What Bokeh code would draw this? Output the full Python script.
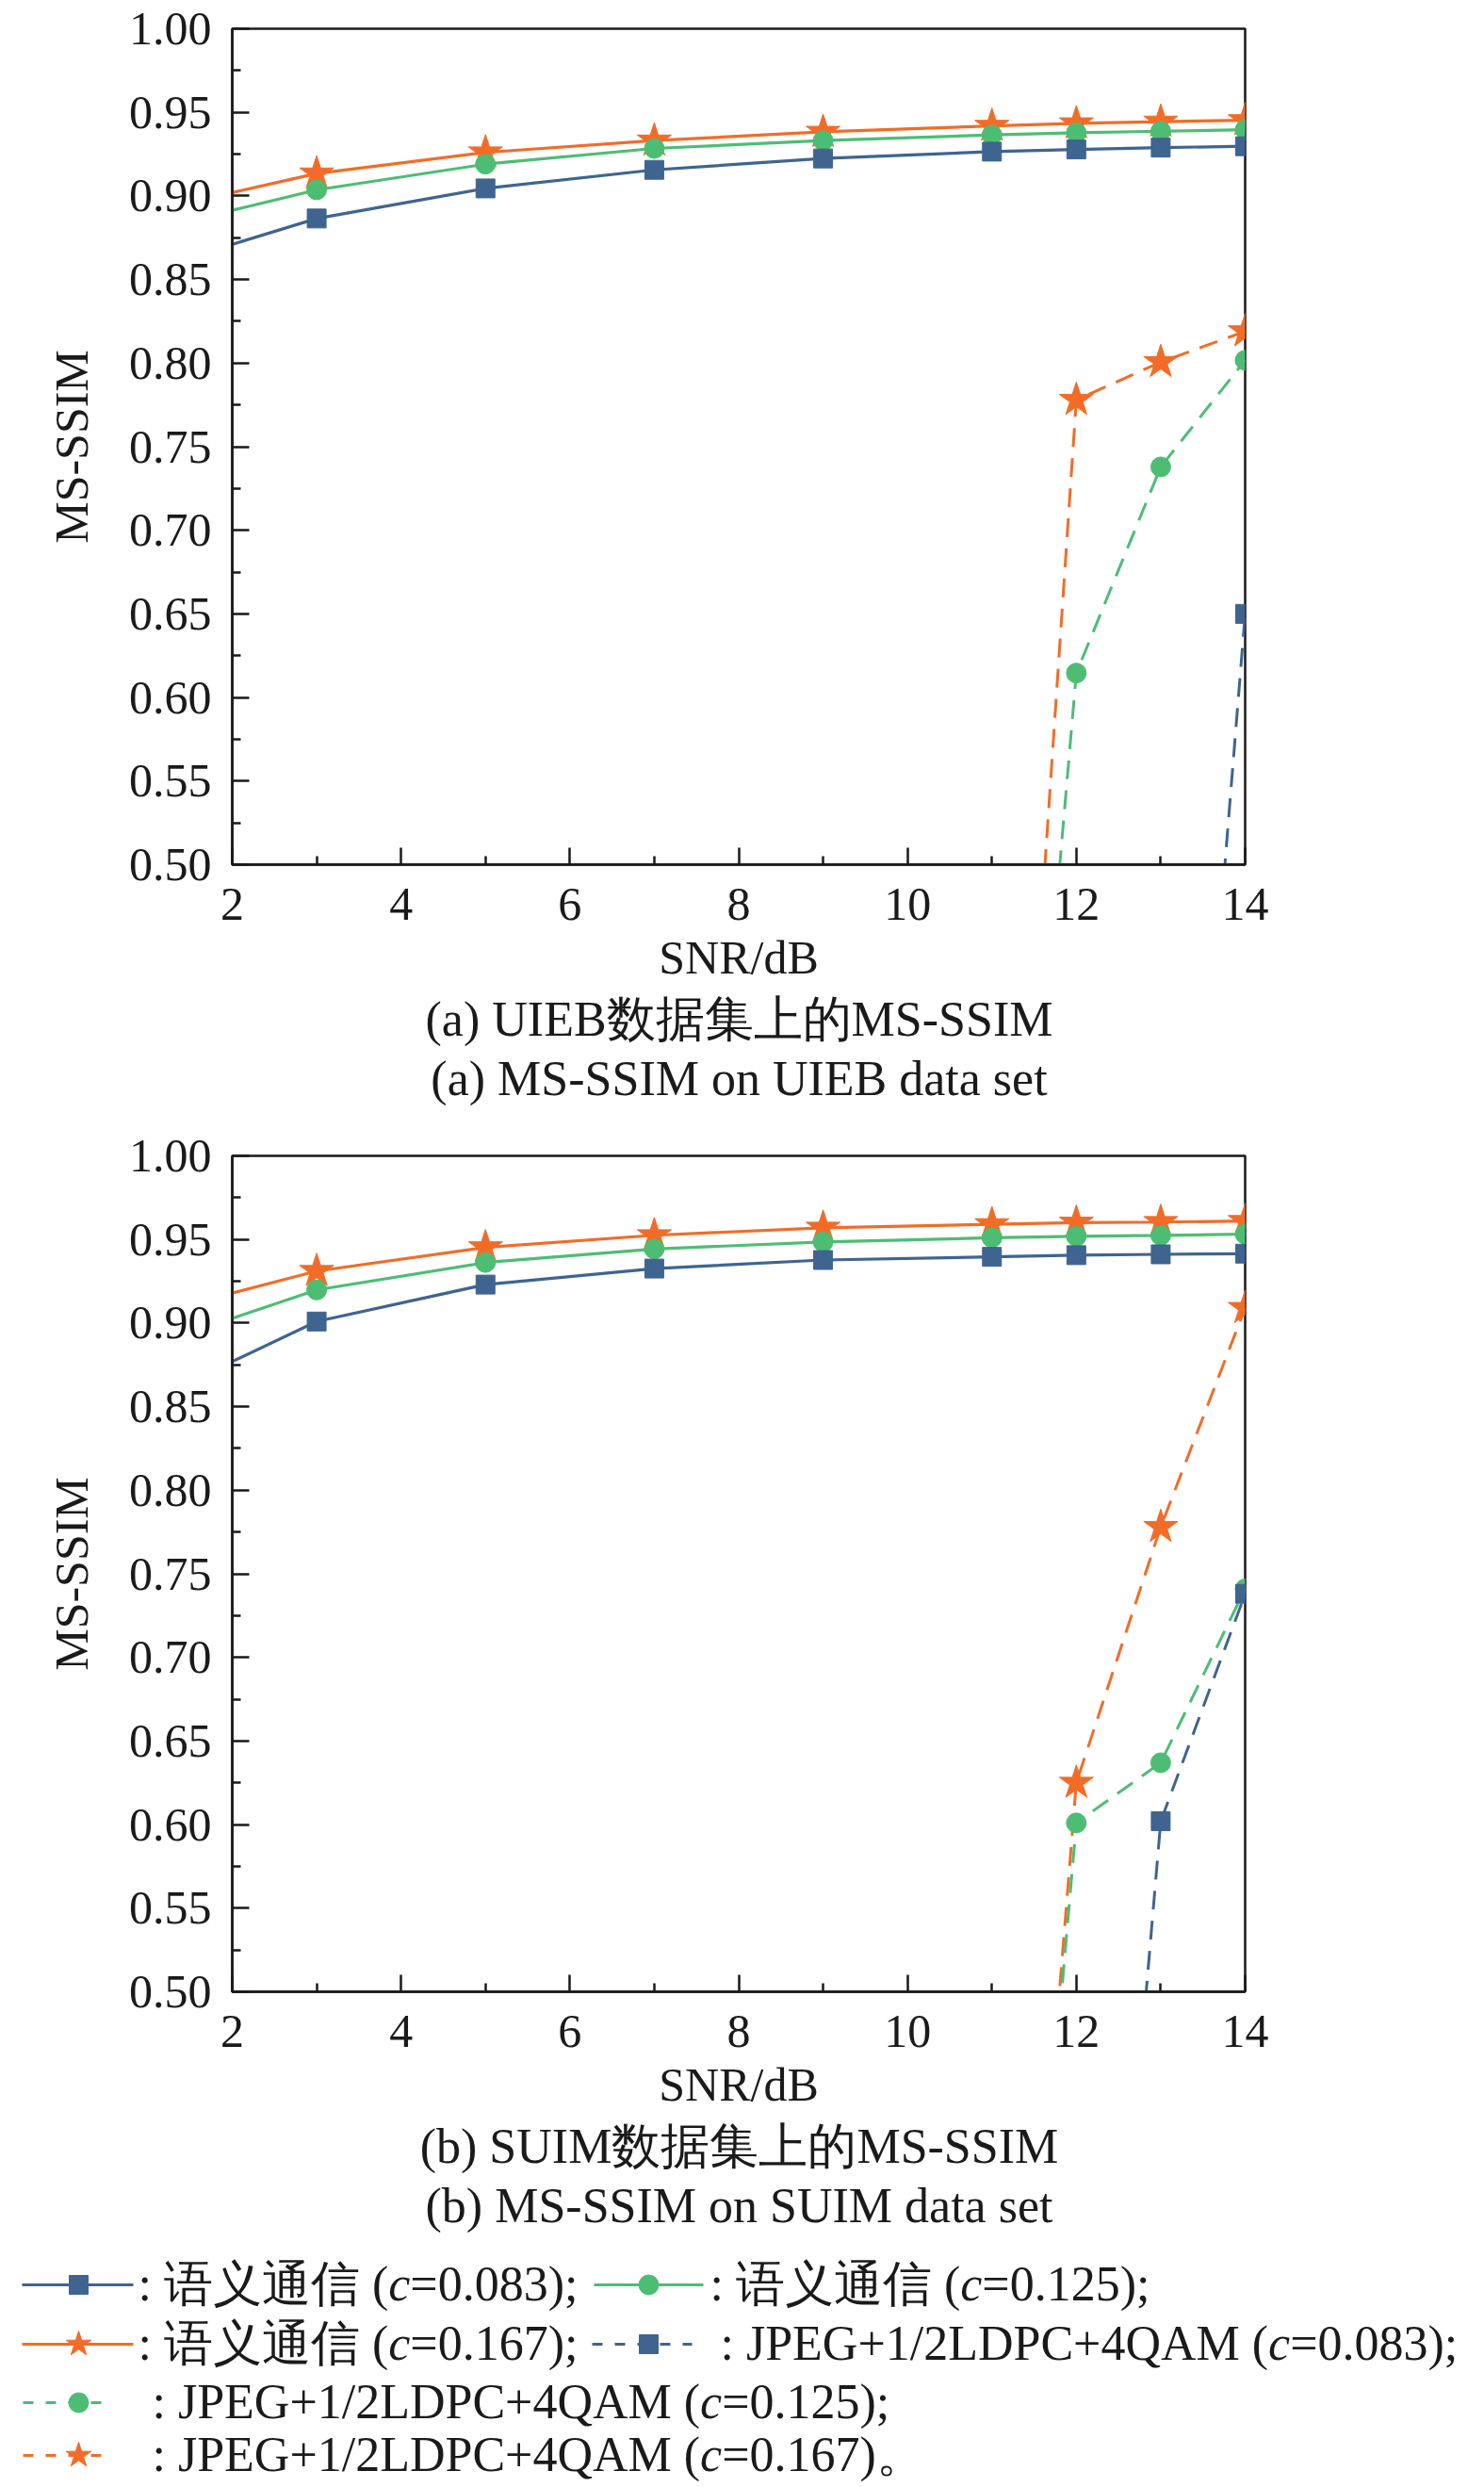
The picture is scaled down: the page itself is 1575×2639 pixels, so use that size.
from bokeh.plotting import figure
from bokeh.models import Range1d, FixedTicker, PrintfTickFormatter
from bokeh.embed import file_html
from bokeh.resources import INLINE
from bokeh.core.properties import value

# ---------------- data ----------------
snr = [2, 3, 5, 7, 9, 11, 12, 13, 14]
x_ticks = [2, 4, 6, 8, 10, 12, 14]
x_minor = [3, 5, 7, 9, 11, 13]
y_ticks = [0.50, 0.55, 0.60, 0.65, 0.70, 0.75, 0.80, 0.85, 0.90, 0.95, 1.00]
y_minor = [0.525, 0.575, 0.625, 0.675, 0.725, 0.775, 0.825, 0.875, 0.925, 0.975]

# (a) UIEB
a_sem_083 = [0.871, 0.8865, 0.9045, 0.9156, 0.9224, 0.9265, 0.9278, 0.9289, 0.9297]
a_sem_125 = [0.8914, 0.9036, 0.9190, 0.9284, 0.9331, 0.9365, 0.9378, 0.9387, 0.9396]
a_sem_167 = [0.9020, 0.9134, 0.9260, 0.9331, 0.9383, 0.9419, 0.9434, 0.9444, 0.9453]
a_jpeg_083_x = [13, 14]
a_jpeg_083 = [0.025, 0.650]
a_jpeg_125_x = [11, 12, 13, 14]
a_jpeg_125 = [0.03, 0.6146, 0.7379, 0.8017]
a_jpeg_167_x = [11, 12, 13, 14]
a_jpeg_167 = [0.03, 0.778, 0.8006, 0.819]

# (b) SUIM
b_sem_083 = [0.877, 0.9009, 0.9230, 0.9326, 0.9377, 0.9396, 0.9406, 0.9411, 0.9415]
b_sem_125 = [0.9028, 0.9198, 0.9362, 0.9443, 0.9485, 0.9510, 0.9519, 0.9524, 0.9532]
b_sem_167 = [0.9179, 0.9311, 0.9453, 0.9525, 0.9570, 0.9591, 0.9600, 0.9604, 0.9610]
b_jpeg_083_x = [12, 13, 14]
b_jpeg_083 = [0.01, 0.602, 0.738]
b_jpeg_125_x = [11, 12, 13, 14]
b_jpeg_125 = [0.02, 0.601, 0.637, 0.741]
b_jpeg_167_x = [11, 12, 13, 14]
b_jpeg_167 = [0.0, 0.625, 0.778, 0.909]

captions_a = ["(a) UIEB数据集上的MS-SSIM", "(a) MS-SSIM on UIEB data set"]
captions_b = ["(b) SUIM数据集上的MS-SSIM", "(b) MS-SSIM on SUIM data set"]

legend_names = ["语义通信", "语义通信", "语义通信",
                "JPEG+1/2LDPC+4QAM", "JPEG+1/2LDPC+4QAM", "JPEG+1/2LDPC+4QAM"]
legend_c = ["0.083", "0.125", "0.167", "0.083", "0.125", "0.167"]
legend_end = [";", ";", ";", ";", ";", "。"]

# ---------------- styles ----------------
BLUE = "#3F6490"
GREEN = "#4DBD74"
ORANGE = "#F26C28"
COLORS = [BLUE, GREEN, ORANGE]
MARKERS = ["square", "circle", "star"]
MSIZE = [20, 21, 38]
FONT = "Liberation Serif"
INK = "#1a1a1a"
W = 1567
FIG_H = 1050
CAP_H = 146
LEG_H = 2639 - 2 * FIG_H - 2 * CAP_H

def make_plot(sem, jpeg_x, jpeg):
    p = figure(width=W, height=FIG_H, x_range=Range1d(2, 14), y_range=Range1d(0.5, 1.0),
               output_backend="svg", toolbar_location=None,
               min_border_left=246, min_border_right=W - 246 - 1075,
               min_border_top=30, min_border_bottom=FIG_H - 30 - 887)
    p.grid.visible = False
    p.outline_line_color = INK
    p.outline_line_width = 2.5
    p.xaxis.ticker = FixedTicker(ticks=x_ticks, minor_ticks=x_minor)
    p.yaxis.ticker = FixedTicker(ticks=y_ticks, minor_ticks=y_minor)
    p.yaxis.formatter = PrintfTickFormatter(format="%.2f")
    for ax in (p.xaxis[0], p.yaxis[0]):
        ax.axis_line_width = 2.5
        ax.axis_line_color = INK
        ax.major_tick_in = 18
        ax.major_tick_out = 0
        ax.minor_tick_in = 9
        ax.minor_tick_out = 0
        ax.major_tick_line_width = 2.5
        ax.minor_tick_line_width = 2.5
        ax.major_tick_line_color = INK
        ax.minor_tick_line_color = INK
        ax.major_label_text_font = FONT
        ax.major_label_text_font_size = "50px"
        ax.major_label_text_color = INK
        ax.axis_label_text_font = FONT
        ax.axis_label_text_font_size = "50px"
        ax.axis_label_text_font_style = "normal"
        ax.axis_label_text_color = INK
    p.xaxis.axis_label = "SNR/dB"
    p.yaxis.axis_label = "MS-SSIM"
    p.xaxis.major_label_standoff = 25
    p.yaxis.major_label_standoff = 22
    p.xaxis.axis_label_standoff = 9
    p.yaxis.axis_label_standoff = 30

    for i in (2, 1, 0):
        c = COLORS[i]
        p.line(jpeg_x[i], jpeg[i], line_color=c, line_width=3, line_dash="20 12")
        p.scatter(jpeg_x[i], jpeg[i], marker=MARKERS[i], size=MSIZE[i],
                  fill_color=c, line_color=c)
    for i in (2, 1, 0):
        c = COLORS[i]
        p.line(snr, sem[i], line_color=c, line_width=3.2)
        p.scatter(snr[1:], sem[i][1:], marker=MARKERS[i], size=MSIZE[i],
                  fill_color=c, line_color=c)
    return p

def text_fig(h):
    p = figure(width=W, height=h, x_range=Range1d(0, W), y_range=Range1d(h, 0),
               output_backend="svg", toolbar_location=None,
               x_axis_type=None, y_axis_type=None, min_border=0)
    p.grid.visible = False
    p.outline_line_color = None
    return p

def caption_fig(caps):
    p = text_fig(CAP_H)
    p.text(x=[784, 784], y=[31, 94], text=caps, text_font=value(FONT),
           text_font_size="52px", text_align="center", text_baseline="alphabetic",
           text_color=INK)
    return p

fig_a = make_plot([a_sem_083, a_sem_125, a_sem_167],
                  [a_jpeg_083_x, a_jpeg_125_x, a_jpeg_167_x],
                  [a_jpeg_083, a_jpeg_125, a_jpeg_167])
cap_a = caption_fig(captions_a)
fig_b = make_plot([b_sem_083, b_sem_125, b_sem_167],
                  [b_jpeg_083_x, b_jpeg_125_x, b_jpeg_167_x],
                  [b_jpeg_083, b_jpeg_125, b_jpeg_167])
cap_b = caption_fig(captions_b)

# ---------------- legend ----------------
FS = 52
leg = text_fig(LEG_H)
WID = {':': .278, ' ': .25, '(': .333, ')': .333, ';': .278, '=': .564, '.': .25,
       '+': .564, '/': .278, 'J': .389, 'P': .556, 'E': .611, 'G': .722, 'L': .611,
       'D': .722, 'C': .667, 'Q': .722, 'A': .722, 'M': .889}

def tw(s):
    return sum(WID.get(ch, 0.5 if ch.isdigit() else 1.0) for ch in s) * FS

# legend entry layout: (row y, key x0, key x1, marker x, text x) in figure pixels
rows = [32, 95, 157, 213]
entries = [
    (rows[0], 23, 141, 83, 146),
    (rows[0], 630, 746, 688, 753),
    (rows[1], 23, 141, 83, 146),
    (rows[1], 628, 734, 688, 764),
    (rows[2], 24, 120, 83, 161),
    (rows[3], 24, 120, 83, 161),
]
series_idx = [0, 1, 2, 0, 1, 2]
tx, ty, tt = [], [], []
cx, cy = [], []
for k, (ry, x0, x1, mx, txt_x) in enumerate(entries):
    i = series_idx[k]
    col = COLORS[i]
    dash = "solid" if k < 3 else "11 13"
    leg.line([x0, x1], [ry, ry], line_color=col, line_width=3.2, line_dash=dash)
    leg.scatter([mx], [ry], marker=MARKERS[i], size=[20, 21, 28][i],
                fill_color=col, line_color=col)
    pre = ": " + legend_names[k] + " ("
    post = "=" + legend_c[k] + ")" + legend_end[k]
    base = ry - 1
    tx += [txt_x, txt_x + tw(pre) + 0.444 * FS]
    ty += [base, base]
    tt += [pre, post]
    cx.append(txt_x + tw(pre))
    cy.append(base)

leg.text(x=tx, y=ty, text=tt, text_font=value(FONT), text_font_size=f"{FS}px",
         text_align="left", text_baseline="alphabetic", text_color=INK)
leg.text(x=cx, y=cy, text=["c"] * len(cx), text_font=value(FONT), text_font_size=f"{FS}px",
         text_font_style="italic", text_align="left", text_baseline="alphabetic",
         text_color=INK)

open("out.html", "w").write(file_html([fig_a, cap_a, fig_b, cap_b, leg], INLINE))
